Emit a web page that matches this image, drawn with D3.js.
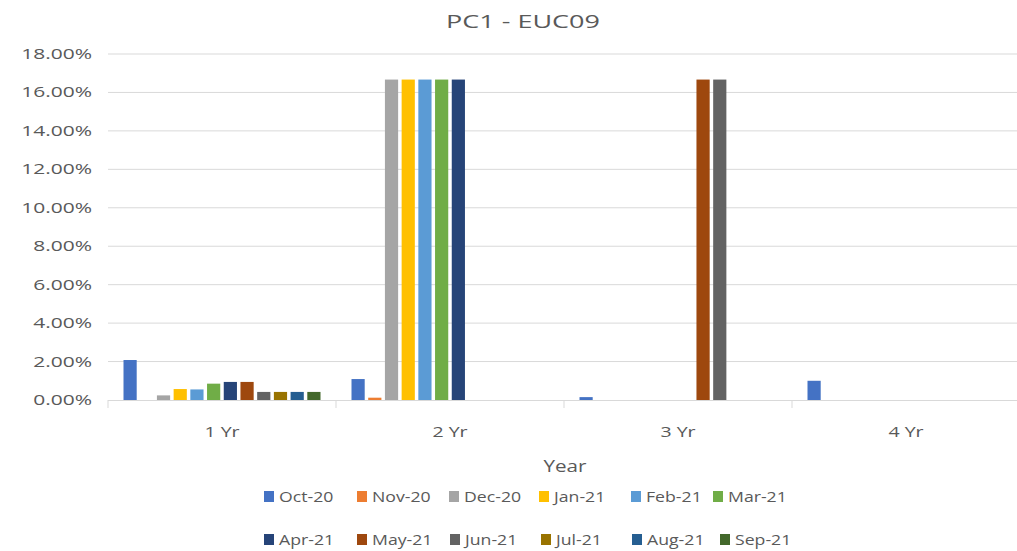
<!DOCTYPE html>
<html><head><meta charset="utf-8">
<script src="https://cdn.jsdelivr.net/npm/d3@7"></script>
<style>body{margin:0;background:#fff;}svg{display:block;font-family:"Open Sans","Liberation Sans",sans-serif;}</style>
</head><body><svg id="c" width="1017" height="551"></svg>
<script>
const categories = ["1 Yr","2 Yr","3 Yr","4 Yr"];
const seriesNames = ["Oct-20","Nov-20","Dec-20","Jan-21","Feb-21","Mar-21","Apr-21","May-21","Jun-21","Jul-21","Aug-21","Sep-21"];
const seriesColors = ["#4472C4","#ED7D31","#A5A5A5","#FFC000","#5B9BD5","#70AD47","#264478","#9E480E","#636363","#997300","#255E91","#43682B"];
// values in % per series, for [1 Yr, 2 Yr, 3 Yr, 4 Yr]
const oct20 = [2.08, 1.09, 0.15, 1.00];
const nov20 = [0, 0.12, 0, 0];
const dec20 = [0.24, 16.67, 0, 0];
const jan21 = [0.57, 16.67, 0, 0];
const feb21 = [0.55, 16.67, 0, 0];
const mar21 = [0.85, 16.67, 0, 0];
const apr21 = [0.94, 16.67, 0, 0];
const may21 = [0.94, 0, 16.67, 0];
const jun21 = [0.42, 0, 16.67, 0];
const jul21 = [0.42, 0, 0, 0];
const aug21 = [0.42, 0, 0, 0];
const sep21 = [0.42, 0, 0, 0];
const yTicks = [0,2,4,6,8,10,12,14,16,18];

const seriesValues = [oct20,nov20,dec20,jan21,feb21,mar21,apr21,may21,jun21,jul21,aug21,sep21];
const svg = d3.select("#c");
const L = 108, R = 1020, T = 54, B = 400;
const SX = 1.35;
const x0 = d3.scaleBand().domain(categories).range([L, R]).paddingInner(0).paddingOuter(0);
const x1 = d3.scaleBand().domain(seriesNames).range([15.5, x0.bandwidth()-15.5]).paddingInner(0.21).paddingOuter(0);
const y = d3.scaleLinear().domain([0,18]).range([B, T]);
const txt = "#595959";

function label(x, yy, s, size, anchor, sx){
  svg.append("g").attr("transform", `translate(${x},${yy}) scale(${sx||SX},1)`)
    .append("text").attr("text-anchor", anchor).attr("font-size", size).attr("fill", txt).text(s);
}

label(523, 28, "PC1 - EUC09", 19, "middle", 1.42);

// gridlines
svg.append("g").selectAll("line").data(yTicks.filter(d=>d>0)).join("line")
  .attr("x1", L).attr("x2", R).attr("y1", d=>y(d)).attr("y2", d=>y(d))
  .attr("stroke", "#d9d9d9").attr("stroke-width", 1);

// y tick labels
yTicks.forEach(t => label(92, y(t)+5, t.toFixed(2)+"%", 15, "end", 1.4));

// bars
const groups = svg.append("g").selectAll("g").data(categories).join("g")
  .attr("transform", d=>`translate(${x0(d)},0)`);
groups.selectAll("rect").data((c,ci)=>seriesNames.map((s,si)=>({s, si, v: seriesValues[si][ci]})))
  .join("rect")
  .attr("x", d=>x1(d.s)).attr("width", x1.bandwidth())
  .attr("y", d=>y(d.v)).attr("height", d=>B - y(d.v))
  .attr("fill", d=>seriesColors[d.si]);

// x axis
svg.append("line").attr("x1", L).attr("x2", R).attr("y1", B+0.5).attr("y2", B+0.5).attr("stroke","#d9d9d9");
svg.append("g").selectAll("line").data(d3.range(categories.length+1)).join("line")
  .attr("x1", i=>L + i*x0.bandwidth()).attr("x2", i=>L + i*x0.bandwidth())
  .attr("y1", B).attr("y2", B+8).attr("stroke","#d9d9d9");
categories.forEach(c => label(x0(c)+x0.bandwidth()/2, 437, c, 14.5, "middle"));

label(565, 472, "Year", 16.5, "middle", 1.25);

// legend
const rows = [seriesNames.slice(0,6), seriesNames.slice(6)];
const rowXs = [[264,357,449,539,631,713],[264,357,450,541,632,720]];
const rowY = [497, 540];
rows.forEach((r,ri)=>{
  r.forEach((s,i)=>{
    const si = seriesNames.indexOf(s);
    svg.append("rect").attr("x",rowXs[ri][i]).attr("y",rowY[ri]-6).attr("width",10).attr("height",11).attr("fill",seriesColors[si]);
    label(rowXs[ri][i]+15, rowY[ri]+5, s, 14.5, "start", 1.22);
  });
});
</script></body></html>
